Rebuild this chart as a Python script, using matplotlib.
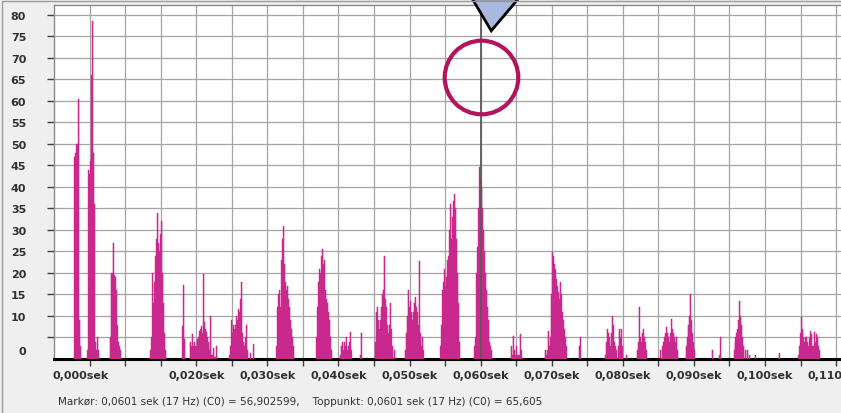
import matplotlib
matplotlib.use("Agg")
import matplotlib.pyplot as plt
from matplotlib.patches import Polygon, Rectangle
import numpy as np

# ---------------- data ----------------
SAMPLE_STEP_MS = 0.1406  # spacing of the analysis samples (ms)

cluster_start_ms = [2.95, 4.78, 7.88, 13.64, 18.14, 19.13, 20.25, 24.75, 31.36,
                    36.99, 40.23, 43.04, 45.15, 47.96, 49.37, 54.43, 59.21,
                    64.28, 69.06, 73.84, 77.50, 80.59, 82.00, 85.37, 88.89,
                    92.55, 93.67, 95.64, 98.60, 101.97, 104.78]

cluster_values = [
    [47, 48, 50, 50, 60.5, 9, 3],
    [2, 44, 43, 46, 66, 78.6, 48, 36, 4, 2, 5, 2],
    [5, 20, 20, 27, 19.5, 19, 16, 8, 4, 3, 2],
    [2, 5, 20, 13, 18, 24, 28, 34, 27, 25, 29, 32, 20, 13, 6, 2],
    [7.7, 17.2, 4.7],
    [4, 3, 5.8, 3, 4, 3, 3],
    [4.7, 5, 6.5, 7, 7.7, 6, 19.8, 8.6, 7, 6.2, 5, 4, 2, 10, 1, 1, 2.5, 0.5, 0.5, 3],
    [1, 3, 9, 6, 8, 7, 8, 10, 9, 11.6, 11, 14, 18, 6, 4, 3, 5, 8, 2, 0, 0, 1.5, 0, 0, 3.5],
    [3, 12, 15, 16, 12, 23, 28, 31, 22, 18, 16, 17, 14, 12, 9, 7, 5, 3],
    [5, 12, 18, 21, 20, 24, 25.6, 22, 23, 16, 14, 13, 11, 9, 5, 2],
    [1, 3, 4, 2, 4, 3, 5, 2, 3, 4, 6.3, 2],
    [1, 6],
    [4, 11, 12, 9, 7, 9, 12, 15, 16, 24, 14, 12, 8, 6, 8, 13, 7, 3],
    [2],
    [2, 6, 10, 16, 12, 13.5, 11, 9, 11, 13, 14.4, 12, 11, 8, 22.8, 6, 3, 5, 2],
    [3, 8, 16, 18, 21, 17, 19, 23, 24, 30, 36, 28, 33, 36.7, 38.4, 35, 28, 20, 13, 4],
    [3, 5, 20, 26, 35, 44.6, 42, 40, 35, 30, 25, 20, 16, 12, 9, 4, 3, 2],
    [3, 1, 5.4, 2, 1, 3, 1, 1, 1, 5.8, 2],
    [2, 1, 2, 6.5, 3, 5, 15, 24.8, 24, 22, 21, 18.6, 17, 15.6, 14, 18, 15, 11, 9, 7, 5, 3],
    [3, 5],
    [1, 4, 7, 6, 5, 3, 6, 10, 8, 4, 3, 2, 0, 3, 7, 5, 7, 3],
    [1],
    [2, 4, 12, 5, 4, 6, 7, 5, 4, 2],
    [2, 0, 3, 4, 5, 6, 7.4, 6, 5, 4, 6, 9.3, 7, 6, 5, 4, 5, 2],
    [3, 5, 8, 10, 15, 9, 6, 4, 2],
    [2],
    [1, 5],
    [2, 4, 5, 6, 7, 9, 13.5, 10, 8, 5, 3, 0, 2, 0, 2, 0, 1],
    [1],
    [1.5],
    [1, 3, 6, 9.7, 7, 5, 4, 5, 5, 4, 3, 5, 6.5, 5.8, 3, 3, 6.2, 4, 5.8, 5, 3, 2],
]

marker_time = 0.0601
peak_value = 65.605

x_label_pos = [0.0038, 0.020, 0.030, 0.040, 0.050, 0.060, 0.070, 0.080, 0.090, 0.100, 0.110]
x_labels = ["0,000sek", "0,020sek", "0,030sek", "0,040sek", "0,050sek", "0,060sek",
            "0,070sek", "0,080sek", "0,090sek", "0,100sek", "0,110sek"]
y_label_pos = [2, 10, 15, 20, 25, 30, 35, 40, 45, 50, 55, 60, 65, 70, 75, 80]
y_labels = ["0", "10", "15", "20", "25", "30", "35", "40", "45", "50", "55",
            "60", "65", "70", "75", "80"]

status_text = ("Markør: 0,0601 sek (17 Hz) (C0) = 56,902599,    "
               "Toppunkt: 0,0601 sek (17 Hz) (C0) = 65,605")

# ---------------- build sample arrays ----------------
times, vals = [], []
for s, vs in zip(cluster_start_ms, cluster_values):
    for i, v in enumerate(vs):
        times.append((s + i * SAMPLE_STEP_MS) / 1000.0)
        vals.append(v)
times = np.array(times)
vals = np.array(vals)

# ---------------- figure ----------------
W, H = 841, 414
fig = plt.figure(figsize=(W / 100, H / 100), dpi=100)
fig.patch.set_facecolor("#efefef")

# outer window border
fig.add_artist(Rectangle((2 / W, -0.1), 1.2, 1.1 - 2 / H, transform=fig.transFigure,
                         fill=False, edgecolor="#9a9a9a", lw=1.0))

ax = fig.add_axes([54 / W, (H - 360) / H, 787 / W, 354 / H])
ax.set_facecolor("white")
ax.set_xlim(0, 787 / 7110)
ax.set_ylim(0, 82.3)
ax.xaxis.remove_overlapping_locs = False
ax.yaxis.remove_overlapping_locs = False

# grid via minor ticks
ax.set_xticks(np.arange(0.005, 0.1105, 0.005), minor=True)
ax.set_yticks(np.arange(5, 81, 5), minor=True)
ax.grid(which="minor", color="#a4a4a4", lw=0.9)
ax.set_axisbelow(True)

ax.set_xticks(x_label_pos)
ax.set_xticklabels(x_labels, fontsize=8, fontweight="bold", color="#303030")
ax.set_yticks(y_label_pos)
ax.set_yticklabels(y_labels, fontsize=8, fontweight="bold", color="#303030")
ax.tick_params(which="major", length=0)
ax.tick_params(axis="x", which="major", pad=8)
ax.tick_params(axis="y", which="major", pad=20)
ax.tick_params(which="minor", length=5, width=1, color="#404040")

for sp in ["top", "left"]:
    ax.spines[sp].set_color("#8a8a8a")
    ax.spines[sp].set_linewidth(1.0)
ax.spines["right"].set_visible(False)
ax.spines["bottom"].set_color("black")
ax.spines["bottom"].set_linewidth(2.2)

# bars
ax.bar(times, vals, width=SAMPLE_STEP_MS / 1000.0, color="#d8208f",
       edgecolor="#d8208f", linewidth=0.3, zorder=3)
# thin darker tips on the spikes
ax.vlines(times, 0, vals, color="#9c4a86", lw=0.35, alpha=0.55, zorder=3.5)

# marker line
ax.axvline(marker_time, color="#5a5a5a", lw=1.3, zorder=4)

# circle around peak
ax.plot([marker_time], [peak_value], "o", ms=53, mfc="none", mec="#b3145c",
        mew=3.0, zorder=5, clip_on=False)

# triangle marker at the top
tri = Polygon([[marker_time - 0.00127, 83.75], [marker_time + 0.0052, 83.75],
               [marker_time + 0.0014, 76.3]], closed=True, facecolor="#a9b8df",
              edgecolor="black", lw=2.0, zorder=6, clip_on=False)
ax.add_patch(tri)

fig.text(58 / W, 1 - 402 / H, status_text, fontsize=7.5, color="#303030",
         va="center", ha="left")

fig.savefig("out.png", dpi=100, facecolor=fig.get_facecolor())
